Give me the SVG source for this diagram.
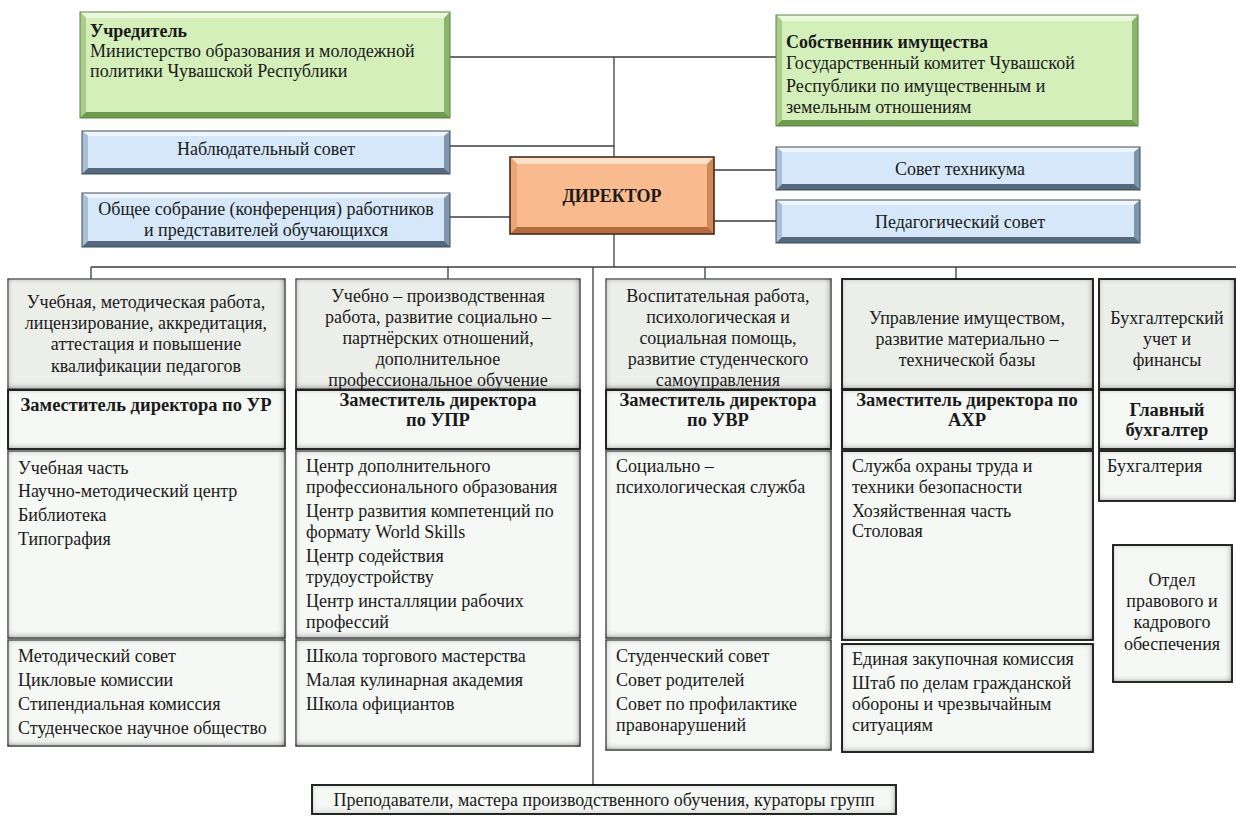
<svg xmlns="http://www.w3.org/2000/svg" width="1236" height="816" viewBox="0 0 1236 816" font-family="'Liberation Serif','Times New Roman',serif">
<style>
text{font-family:"Liberation Serif","Times New Roman",serif;fill:#1a1a1a;font-size:18px}
.c{text-anchor:middle}
.b{font-weight:bold}
.z{font-size:18.5px;font-weight:bold}
.ln{stroke:#3a3f44;stroke-width:1.3;fill:none}
.gT{fill:#ecf8de}.gL{fill:#a9cc8a}.gR{fill:#8cb56b}.gB{fill:#6e9a4c}.gF{fill:#d5efbb}.gO{fill:none;stroke:#5b8540;stroke-width:1}
.bT{fill:#eef5fc}.bL{fill:#a8bfd5}.bR{fill:#7f97ae}.bB{fill:#56697c}.bF{fill:#d5e7f8}.bO{fill:none;stroke:#3d4d5d;stroke-width:1}
.oT{fill:#fde0c8}.oL{fill:#eaa676}.oR{fill:#d08858}.oB{fill:#b36b3f}.oF{fill:#f9bb8d}.oO{fill:none;stroke:#4a2a18;stroke-width:1.6}
.w{fill:#f5f8f4;stroke:#4a4a4a;stroke-width:1.2;filter:url(#ins)}
.wk{fill:#f5f8f4;stroke:#111;stroke-width:1.8;filter:url(#ins)}
.wt{fill:#eceeea;stroke:#5a5a5a;stroke-width:1.2;filter:url(#ins)}
.wtk{fill:#eceeea;stroke:#111;stroke-width:1.8;filter:url(#ins)}
</style>
<defs>
<filter id="ins" x="-0.1" y="-0.1" width="1.2" height="1.2">
<feFlood flood-color="#2a2a2a" result="f"/>
<feComposite in="f" in2="SourceAlpha" operator="out" result="o"/>
<feGaussianBlur in="o" stdDeviation="3" result="bl"/>
<feOffset in="bl" dx="-1" dy="-1.5" result="of"/>
<feComposite in="of" in2="SourceAlpha" operator="in" result="sh"/>
<feMerge><feMergeNode in="SourceGraphic"/><feMergeNode in="sh"/></feMerge>
</filter>
</defs>
<rect width="1236" height="816" fill="#ffffff"/>

<g id="connectors">
<path class="ln" d="M450 57H776M614 57V157M450 146H614M450 217H510M712 170H776M712 221H776M614 233V267M91 267H1236M91 267V279M448 267V279M705 267V279M956 267V279M593 267V785"/>
</g>

<g id="uchreditel">
<rect x="80" y="12" width="370" height="106" class="gR"/>
<polygon class="gT" points="80,12 450,12 444,18 86,18"/>
<polygon class="gB" points="80,118 450,118 444,112 86,112"/>
<polygon class="gL" points="80,12 86,18 86,112 80,118"/>
<rect x="86" y="18" width="358" height="94" class="gF"/>
<rect x="80" y="12" width="370" height="106" class="gO"/>
<text class="b" x="90" y="37">Учредитель</text>
<text x="90" y="57">Министерство образования и молодежной</text>
<text x="90" y="77">политики Чувашской Республики</text>
</g>

<g id="sobstvennik">
<rect x="776" y="15" width="362" height="111" class="gR"/>
<polygon class="gT" points="776,15 1138,15 1132,21 782,21"/>
<polygon class="gB" points="776,126 1138,126 1132,120 782,120"/>
<polygon class="gL" points="776,15 782,21 782,120 776,126"/>
<rect x="782" y="21" width="350" height="99" class="gF"/>
<rect x="776" y="15" width="362" height="111" class="gO"/>
<text class="b" x="786" y="48">Собственник имущества</text>
<text x="786" y="69">Государственный комитет Чувашской</text>
<text x="786" y="92">Республики по имущественным и</text>
<text x="786" y="113">земельным отношениям</text>
</g>

<g id="nabl">
<rect x="82" y="131" width="368" height="43" class="bR"/>
<polygon class="bT" points="82,131 450,131 444,136 88,136"/>
<polygon class="bB" points="82,174 450,174 444,168 88,168"/>
<polygon class="bL" points="82,131 88,136 88,168 82,174"/>
<rect x="88" y="136" width="356" height="32" class="bF"/>
<rect x="82" y="131" width="368" height="43" class="bO"/>
<text class="c" x="266" y="155">Наблюдательный совет</text>
</g>

<g id="sobranie">
<rect x="82" y="193" width="368" height="54" class="bR"/>
<polygon class="bT" points="82,193 450,193 444,198 88,198"/>
<polygon class="bB" points="82,247 450,247 444,241 88,241"/>
<polygon class="bL" points="82,193 88,198 88,241 82,247"/>
<rect x="88" y="198" width="356" height="43" class="bF"/>
<rect x="82" y="193" width="368" height="54" class="bO"/>
<text class="c" x="266" y="215">Общее собрание (конференция) работников</text>
<text class="c" x="266" y="236">и представителей обучающихся</text>
</g>

<g id="director">
<rect x="510" y="157" width="204" height="77" class="oR"/>
<polygon class="oT" points="510,157 714,157 707,164 517,164"/>
<polygon class="oB" points="510,234 714,234 707,227 517,227"/>
<polygon class="oL" points="510,157 517,164 517,227 510,234"/>
<rect x="517" y="164" width="190" height="63" class="oF"/>
<rect x="510" y="157" width="204" height="77" class="oO"/>
<text class="c b" x="612" y="202">ДИРЕКТОР</text>
</g>

<g id="sovet-tekh">
<rect x="776" y="147" width="364" height="43" class="bR"/>
<polygon class="bT" points="776,147 1140,147 1134,152 782,152"/>
<polygon class="bB" points="776,190 1140,190 1134,184 782,184"/>
<polygon class="bL" points="776,147 782,152 782,184 776,190"/>
<rect x="782" y="152" width="352" height="32" class="bF"/>
<rect x="776" y="147" width="364" height="43" class="bO"/>
<text class="c" x="960" y="175">Совет техникума</text>
</g>

<g id="ped-sovet">
<rect x="776" y="200" width="364" height="43" class="bR"/>
<polygon class="bT" points="776,200 1140,200 1134,205 782,205"/>
<polygon class="bB" points="776,243 1140,243 1134,237 782,237"/>
<polygon class="bL" points="776,200 782,205 782,237 776,243"/>
<rect x="782" y="205" width="352" height="32" class="bF"/>
<rect x="776" y="200" width="364" height="43" class="bO"/>
<text class="c" x="960" y="228">Педагогический совет</text>
</g>

<g id="col-ur">
<rect x="8" y="279" width="277" height="110" class="wt"/>
<text class="c" x="146" y="308">Учебная, методическая работа,</text>
<text class="c" x="146" y="329">лицензирование, аккредитация,</text>
<text class="c" x="146" y="350">аттестация и повышение</text>
<text class="c" x="146" y="372">квалификации педагогов</text>
<rect x="8" y="390" width="277" height="59" class="wk"/>
<text class="c z" x="146" y="411">Заместитель директора по УР</text>
<rect x="8" y="451" width="277" height="187" class="w"/>
<text x="18" y="474">Учебная часть</text>
<text x="18" y="497">Научно-методический центр</text>
<text x="18" y="521">Библиотека</text>
<text x="18" y="545">Типография</text>
<rect x="8" y="640" width="277" height="106" class="w"/>
<text x="18" y="662">Методический совет</text>
<text x="18" y="686">Цикловые комиссии</text>
<text x="18" y="710">Стипендиальная комиссия</text>
<text x="18" y="734">Студенческое научное общество</text>
</g>

<g id="col-upr">
<rect x="296" y="279" width="284" height="110" class="wt"/>
<text class="c" x="438" y="302">Учебно – производственная</text>
<text class="c" x="438" y="323">работа, развитие социально –</text>
<text class="c" x="438" y="344">партнёрских отношений,</text>
<text class="c" x="438" y="365">дополнительное</text>
<text class="c" x="438" y="386">профессиональное обучение</text>
<rect x="296" y="390" width="284" height="59" class="wk"/>
<text class="c z" x="438" y="406">Заместитель директора</text>
<text class="c z" x="438" y="426">по УПР</text>
<rect x="296" y="451" width="284" height="187" class="w"/>
<text x="306" y="472">Центр дополнительного</text>
<text x="306" y="493">профессионального образования</text>
<text x="306" y="517">Центр развития компетенций по</text>
<text x="306" y="538">формату World Skills</text>
<text x="306" y="562">Центр содействия</text>
<text x="306" y="583">трудоустройству</text>
<text x="306" y="607">Центр инсталляции рабочих</text>
<text x="306" y="628">профессий</text>
<rect x="296" y="640" width="284" height="106" class="w"/>
<text x="306" y="662">Школа торгового мастерства</text>
<text x="306" y="686">Малая кулинарная академия</text>
<text x="306" y="710">Школа официантов</text>
</g>

<g id="col-uvr">
<rect x="606" y="279" width="225" height="110" class="wt"/>
<text class="c" x="718" y="302">Воспитательная работа,</text>
<text class="c" x="718" y="323">психологическая и</text>
<text class="c" x="718" y="344">социальная помощь,</text>
<text class="c" x="718" y="365">развитие студенческого</text>
<text class="c" x="718" y="386">самоуправления</text>
<rect x="606" y="390" width="225" height="59" class="wk"/>
<text class="c z" x="718" y="406">Заместитель директора</text>
<text class="c z" x="718" y="426">по УВР</text>
<rect x="606" y="451" width="225" height="187" class="w"/>
<text x="616" y="472">Социально –</text>
<text x="616" y="493">психологическая служба</text>
<rect x="606" y="640" width="225" height="110" class="w"/>
<text x="616" y="662">Студенческий совет</text>
<text x="616" y="686">Совет родителей</text>
<text x="616" y="710">Совет по профилактике</text>
<text x="616" y="731">правонарушений</text>
</g>

<g id="col-ahr">
<rect x="842" y="279" width="251" height="110" class="wtk"/>
<text class="c" x="967" y="324">Управление имуществом,</text>
<text class="c" x="967" y="345">развитие материально –</text>
<text class="c" x="967" y="366">технической базы</text>
<rect x="842" y="390" width="251" height="59" class="wk"/>
<text class="c z" x="967" y="406">Заместитель директора по</text>
<text class="c z" x="967" y="426">АХР</text>
<rect x="842" y="451" width="251" height="189" class="wk"/>
<text x="852" y="472">Служба охраны труда и</text>
<text x="852" y="493">техники безопасности</text>
<text x="852" y="517">Хозяйственная часть</text>
<text x="852" y="537">Столовая</text>
<rect x="842" y="644" width="251" height="108" class="wk"/>
<text x="852" y="665">Единая закупочная комиссия</text>
<text x="852" y="689">Штаб по делам гражданской</text>
<text x="852" y="710">обороны и чрезвычайным</text>
<text x="852" y="731">ситуациям</text>
</g>

<g id="col-buh">
<rect x="1099" y="279" width="136" height="110" class="wtk"/>
<text class="c" x="1167" y="324">Бухгалтерский</text>
<text class="c" x="1167" y="345">учет и</text>
<text class="c" x="1167" y="366">финансы</text>
<rect x="1099" y="390" width="136" height="59" class="wk"/>
<text class="c z" x="1167" y="416">Главный</text>
<text class="c z" x="1167" y="436">бухгалтер</text>
<rect x="1099" y="451" width="136" height="50" class="wk"/>
<text x="1107" y="472">Бухгалтерия</text>
</g>

<g id="otdel">
<rect x="1113" y="545" width="119" height="137" class="wk"/>
<text class="c" x="1172" y="586">Отдел</text>
<text class="c" x="1172" y="607">правового и</text>
<text class="c" x="1172" y="628">кадрового</text>
<text class="c" x="1172" y="650">обеспечения</text>
</g>

<g id="prepodavateli">
<rect x="312" y="785" width="584" height="29" class="wk"/>
<text class="c" x="604" y="806">Преподаватели, мастера производственного обучения, кураторы групп</text>
</g>
</svg>
